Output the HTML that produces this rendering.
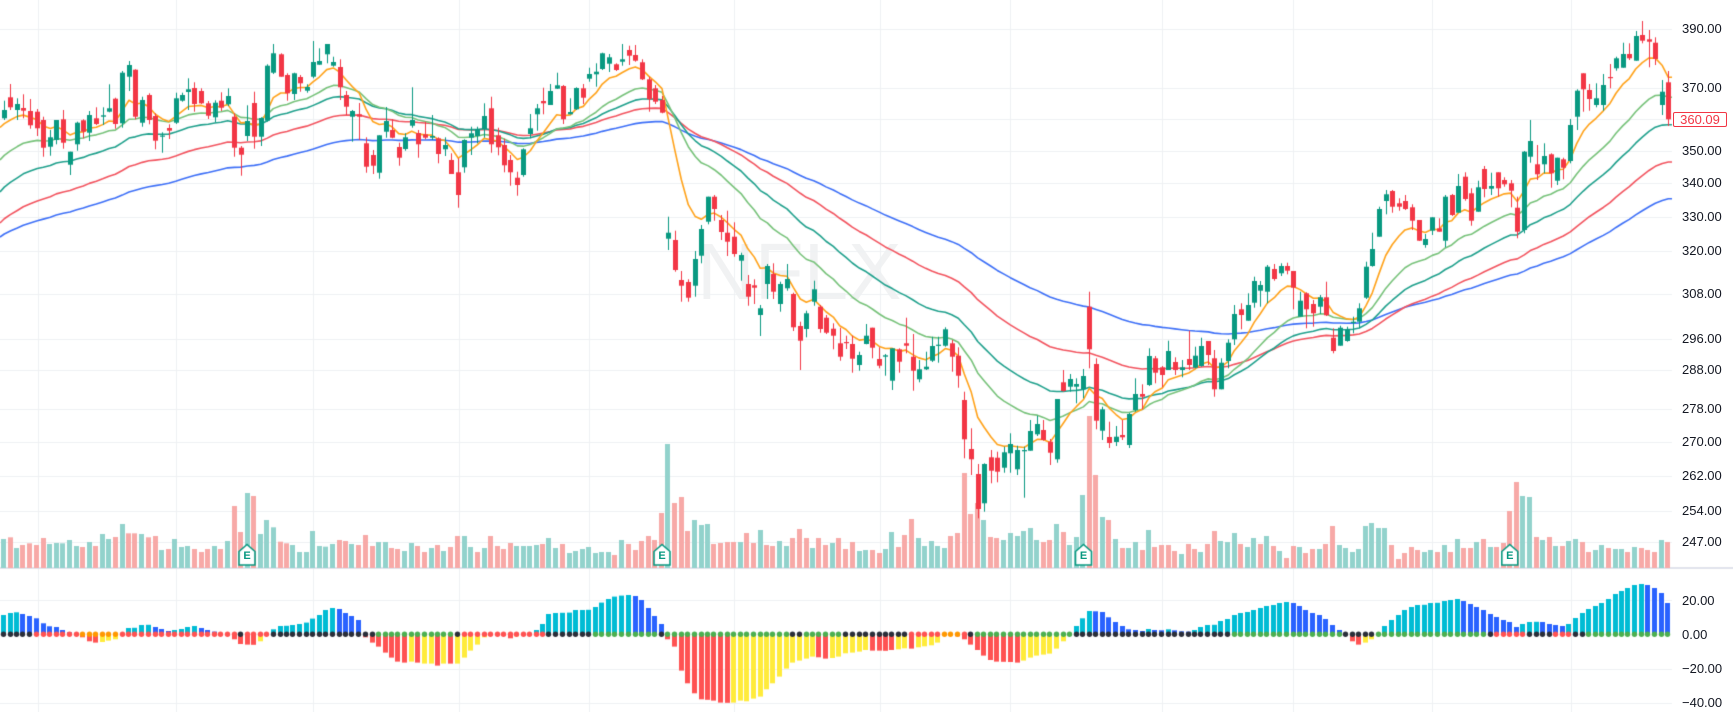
<!DOCTYPE html>
<html><head><meta charset="utf-8">
<style>
html,body{margin:0;padding:0;background:#fff;}
#wrap{position:relative;width:1733px;height:712px;overflow:hidden;background:#fff;font-family:"Liberation Sans",Arial,sans-serif;}
#wm{position:absolute;left:697px;top:232px;font-size:80px;line-height:80px;color:rgba(120,123,134,0.10);white-space:nowrap;}
canvas{position:absolute;left:0;top:0;}
.pl{position:absolute;left:1682px;font-size:13px;color:#131722;line-height:16px;height:16px;white-space:nowrap;}
.tag{position:absolute;left:1673px;top:112px;width:52px;height:13px;border:1px solid #f23645;border-radius:2px;background:#fff;color:#f23645;font-size:13px;line-height:13px;text-align:center;}
.em{position:absolute;width:18px;text-align:center;font-size:11px;font-weight:bold;color:#089981;line-height:12px;}
</style></head><body><div id="wrap">
<div id="wm">NFLX</div>
<canvas id="c" width="1733" height="712"></canvas>
<div class="pl" style="top:21.2px">390.00</div>
<div class="pl" style="top:80.3px">370.00</div>
<div class="pl" style="top:142.7px">350.00</div>
<div class="pl" style="top:175.3px">340.00</div>
<div class="pl" style="top:208.8px">330.00</div>
<div class="pl" style="top:243.4px">320.00</div>
<div class="pl" style="top:286.3px">308.00</div>
<div class="pl" style="top:330.9px">296.00</div>
<div class="pl" style="top:361.7px">288.00</div>
<div class="pl" style="top:401.4px">278.00</div>
<div class="pl" style="top:434.2px">270.00</div>
<div class="pl" style="top:467.9px">262.00</div>
<div class="pl" style="top:502.8px">254.00</div>
<div class="pl" style="top:534.2px">247.00</div>
<div class="tag">360.09</div>
<div class="pl" style="top:592.5px">20.00</div>
<div class="pl" style="top:626.5px">0.00</div>
<div class="pl" style="top:660.9px">&minus;20.00</div>
<div class="pl" style="top:694.9px">&minus;40.00</div>
<div class="em" style="left:238px;top:550px">E</div>
<div class="em" style="left:653px;top:550px">E</div>
<div class="em" style="left:1074.5px;top:550px">E</div>
<div class="em" style="left:1500.8px;top:550px">E</div>
</div>
<script>
(function(){
const cv=document.getElementById('c');const ctx=cv.getContext('2d');
const W=1672;
ctx.fillStyle='#eef0f3';
const hy=[29,88.1,118.9,150.5,183.1,216.6,251.2,294.1,338.7,369.5,409.2,442,475.7,510.6,542,600.3,668.7,702.7];
hy.forEach(y=>ctx.fillRect(0,Math.round(y),W,1));
const vx=[37.5,175.7,313.4,458.5,589,733.8,879.6,1010.3,1162.4,1293.2,1432.4,1570.6];
vx.forEach(x=>ctx.fillRect(Math.round(x),0,1,712));
ctx.fillStyle='#e0e3eb';ctx.fillRect(0,567,1733,2);

const V10=[[6,327,'g'],[18,322,'r'],[30,354,'g'],[42,345,'r'],[55,340,'r'],[67,345,'r'],[80,324,'r'],[92,342,'g'],[104,339,'g'],[116,340,'g'],[128,330,'g'],[141,348,'g'],[153,351,'r'],[166,336,'g'],[178,348,'r'],[190,312,'g'],[202,327,'g'],[214,321,'r'],[227,282,'g'],[239,310,'r'],[251,310,'r'],[263,312,'g'],[276,322,'r'],[289,318,'r'],[301,360,'g'],[313,357,'r'],[325,327,'g'],[337,351,'g'],[349,348,'g'],[362,357,'r'],[375,366,'r'],[387,357,'r'],[399,348,'g'],[411,357,'r'],[423,333,'g'],[436,228,'r'],[448,306,'r'],[461,189,'g'],[473,198,'r'],[485,312,'g'],[497,270,'g'],[509,292,'g'],[522,335,'r'],[534,340,'r'],[546,345,'g'],[559,366,'g'],[571,366,'g'],[583,303,'g'],[595,348,'g'],[607,350,'g'],[620,342,'g'],[632,330,'r'],[644,333,'r'],[656,342,'g'],[669,345,'r'],[682,315,'r'],[694,348,'r'],[706,336,'g'],[718,336,'g'],[730,354,'r'],[742,357,'r'],[755,363,'g'],[767,339,'g'],[779,348,'r'],[792,366,'r'],[804,354,'g'],[816,345,'r'],[828,363,'g'],[841,351,'r'],[853,318,'r'],[866,318,'g'],[878,351,'g'],[890,366,'r'],[903,354,'g'],[915,318,'r'],[927,348,'r'],[940,357,'r'],[952,339,'r'],[964,348,'g'],[976,348,'g'],[988,348,'g'],[1000,345,'g'],[1012,342,'r'],[1024,324,'g'],[1037,354,'g'],[1049,342,'r'],[1062,369,'g'],[1074,363,'g'],[1086,357,'g'],[1098,351,'g'],[1111,369,'g'],[1123,366,'g'],[1135,366,'g'],[1147,375,'r'],[1160,330,'g'],[1172,342,'r'],[1185,360,'r'],[1197,333,'r'],[1209,318,'r'],[1221,330,'r'],[1234,249,'r'],[1246,42,'g'],[1258,219,'r'],[1271,201,'r'],[1283,303,'r'],[1296,270,'g'],[1308,285,'g'],[1320,282,'g'],[1332,342,'r'],[1344,339,'r'],[1357,336,'r'],[1369,336,'r'],[1381,336,'g'],[1393,309,'r'],[1405,339,'r'],[1418,300,'g'],[1430,345,'r'],[1442,348,'r'],[1455,333,'g'],[1467,348,'g'],[1479,324,'r'],[1491,297,'r'],[1504,324,'r'],[1516,354,'g'],[1528,324,'r'],[1540,345,'r'],[1553,339,'g'],[1565,324,'r']];
const V11=[[10,357,'r'],[22,336,'r'],[35,363,'g'],[47,360,'g'],[59,360,'r'],[72,369,'r'],[84,357,'g'],[96,306,'g'],[108,351,'r'],[120,315,'r'],[133,267,'r'],[145,324,'g'],[157,348,'g'],[169,333,'g'],[181,348,'g'],[194,354,'g'],[206,318,'r'],[218,309,'r'],[231,129,'r'],[243,252,'r'],[255,219,'r'],[267,270,'g'],[280,321,'r'],[292,324,'r'],[305,330,'g'],[317,309,'g'],[330,318,'g'],[342,303,'g'],[354,294,'g'],[366,330,'g'],[379,336,'r'],[391,330,'r'],[403,282,'g'],[416,306,'r'],[428,345,'g'],[440,321,'g'],[452,195,'g'],[464,-42,'r'],[476,135,'r'],[489,261,'g'],[501,270,'r'],[514,327,'g'],[526,354,'r'],[538,354,'g'],[550,336,'g'],[563,360,'r'],[575,300,'g'],[587,351,'r'],[600,345,'r'],[612,345,'r'],[624,363,'r'],[636,372,'g'],[649,342,'r'],[661,357,'r'],[673,366,'g'],[686,342,'r'],[698,303,'r'],[710,333,'g'],[722,336,'g'],[735,309,'g'],[747,342,'r'],[759,351,'g'],[771,324,'g'],[784,342,'r'],[796,318,'g'],[808,348,'r'],[820,363,'g'],[833,384,'r'],[845,348,'r'],[857,351,'g'],[869,369,'r'],[881,357,'r'],[894,357,'g'],[906,342,'r'],[918,288,'r'],[931,345,'g'],[943,354,'g'],[955,366,'g'],[967,357,'g'],[980,288,'g'],[992,279,'g'],[1004,294,'g'],[1016,294,'g'],[1029,345,'r'],[1041,387,'r'],[1053,369,'r'],[1066,351,'r'],[1078,360,'r'],[1090,366,'g'],[1102,360,'g'],[1115,366,'r'],[1127,345,'g'],[1139,366,'r'],[1152,327,'g'],[1164,354,'r'],[1176,354,'r'],[1188,336,'g'],[1201,327,'r'],[1213,351,'g'],[1225,351,'r'],[1237,339,'r'],[1249,243,'r'],[1262,156,'r'],[1274,198,'g'],[1286,201,'g'],[1299,321,'r'],[1311,330,'g'],[1323,321,'r'],[1335,348,'g'],[1348,348,'r'],[1360,333,'g'],[1372,327,'g'],[1385,336,'r'],[1397,366,'r'],[1409,360,'g'],[1421,345,'g'],[1434,354,'r'],[1446,357,'g'],[1458,357,'g'],[1470,366,'r'],[1483,351,'g'],[1495,354,'r'],[1507,360,'r'],[1520,366,'r'],[1532,330,'g'],[1544,336,'r']];
const S=1.867;
function vol(arr,off){arr.forEach(v=>{const x=off+v[0]/S;const t=430+v[1]/3;ctx.fillStyle=v[2]=='g'?'#92d2cc':'#f7a9a7';ctx.fillRect(Math.round(x)-2,t,5,568-t);});}
vol(V10,0);vol(V11,840);

[247,662,1083.5,1509.8].forEach(cx=>{
 ctx.beginPath();ctx.moveTo(cx-8,565);ctx.lineTo(cx-8,551.5);ctx.lineTo(cx,544.5);ctx.lineTo(cx+8,551.5);ctx.lineTo(cx+8,565);ctx.closePath();
 ctx.fillStyle='#fff';ctx.fill();ctx.lineWidth=1.6;ctx.strokeStyle='#089981';ctx.stroke();
});

const D=[[4.3,110,118.3,100.7,120,1],[10.3,97.3,107.3,84,110,0],[17.3,104,110,98.3,120,1],[23.3,108,110.7,94.3,118.3,0],[30.3,111,125.3,99,128.7,0],[37.3,111.7,128.3,109,136,0],[43.3,120,147.7,116.7,156.7,0],[50.3,137.3,146.7,130,155.7,1],[56.3,120,140,120,144.3,1],[63.3,119.3,142.7,110,148.7,0],[70,151.7,164.7,151.7,175,1],[76.7,122.7,144.3,121.7,150.7,1],[83.3,120.3,131.7,119.3,138.3,0],[89.3,115,132.7,111,141,1],[96.3,118.3,124,107.3,125,0],[102.7,115.3,116.7,107.3,125,1],[109,108.3,111.7,84.3,112.3,1],[115.3,98.7,124,97.7,128.7,0],[122.3,72.7,123.3,71,127.7,1],[129,65,76.7,61,91,1],[135.3,69.7,116.7,69.3,119.3,0],[142.3,100,122.7,96.7,126.7,1],[148.7,95,120,93.3,124.3,0],[155.3,116,140.7,113.3,149.3,0],[162.3,135.5,136.5,132.3,152.7,1],[168.7,128,130.7,124.3,139,0],[175.7,98.3,122.7,92.7,124,1],[181.7,95,100.7,92.7,101.7,1],[188.3,89.3,92,78.3,110,1],[194.3,88,104,82.3,111.7,0],[201.3,91,103.3,88.3,104,0],[208.3,103.3,115.7,101,119,0],[214.7,102.7,117.3,100.3,122.3,1],[221,100.7,107.7,92.3,111,0],[227.7,96,104.3,88.3,106,1],[234.3,116.7,147.7,113.3,156.7,0],[240.7,147.7,154.7,146,175.7,0],[247.3,121,136,105.3,141,1],[254.3,103,136.7,91.7,148.7,0],[260.7,118,136.7,117.3,146,1],[267.3,65.7,120.7,64.3,121.7,1],[273.3,53.3,72.7,44,74,1],[280.7,54.3,76.7,53.3,76.7,0],[287,75,93.3,73.3,100.7,0],[293.7,73.3,94,72.7,100,1],[300.3,77,83.3,75,91.7,0],[306.7,87,90.7,84.3,92.7,1],[313.3,62,76.7,41,78.3,1],[319.3,61,64.7,48.3,64.7,1],[326.7,44,54.3,44,63.3,1],[333.3,62,65.7,56.7,66.7,1],[339.7,67,87.3,59.3,100,0],[346,95,106.7,91,115,0],[352.3,111,116.7,110,141.7,1],[359.3,114.3,116.7,103,140,0],[366,143.3,166.7,137.3,172.7,0],[372.7,155,165.7,150,174,0],[379.3,135.3,172.7,135.3,178.7,1],[385.7,121,131.7,107,137.7,1],[392,130,137.7,119.3,138.3,0],[398.7,147,157.7,142.7,165.7,0],[405.3,137.3,149,133.3,150.7,1],[411.7,120,125.7,87.3,127.7,1],[418.3,133,144.3,130,157.7,0],[425.3,134.3,137.7,121.7,139.3,0],
[431.7,136,137.7,115,140,1],[438.3,138.3,154,137.3,163.3,0],[444.7,145,149.3,137.3,156,1],[451.3,160,174,153.3,174,0],[458.3,172.3,195,158.3,207.7,0],[464.3,140,167.3,139.3,172.7,1],[471.3,133.3,137.7,126.7,155,1],[477.3,129,136,126.7,143.3,1],[484,116,129,103.3,137.7,1],[491.3,108.3,144.3,96.7,152.7,0],[497.7,135.3,147.3,127.7,155.3,0],[504,145,165.3,138.7,172.3,0],[510.3,160,172.3,155,185.7,0],[517.3,177.7,185,171.7,195.7,0],[523.3,149.3,175,148.3,176.7,1],[530.3,128.3,134,114,138.3,1],[536.7,108.3,114.3,104,130.7,1],[543.3,101,103.3,87.7,114.3,0],[550.3,91,105,84,105,1],[556.7,85.3,88.7,72.7,89,1],[563.3,86,119.3,85,124,0],[570.3,112,114.3,98.3,114.3,1],[576.3,88,109.3,87.3,110,1],[583.3,88.3,97.7,84,104,0],[589.3,74,78.7,67.7,81.7,1],[596,71.7,74.3,63.3,86.7,1],[602.3,53.3,69,52.7,70,1],[609.3,57.3,63.7,54,72,1],[616,64.3,70,63.3,71,0],[622.3,59.3,61.7,44,65.7,1],[629.3,50,55.7,45.7,65,0],[635.3,55,60.7,45,61.7,0],[642.3,62.3,79.3,59.3,80,0],[648.7,79.3,99.3,76.7,111.7,0],[655.3,88.3,101.7,85,104,0],[662,100,112.7,96,113.3,0],
[668.3,232.7,238.7,216.7,250,1],[675,240,270,230.7,271.7,0],[681.3,280,285.7,271,301.7,0],[688.3,282,297.7,279.3,301.7,0],[695.3,259,285.7,251,296.7,1],[701.3,229,255.7,225,263.3,1],[708.3,196.7,221.7,196.7,224.3,1],[714.3,196.7,209,195,220.7,0],[721.3,220,232,215,240,0],[727.3,232.7,241.7,210.7,256,0],[734.3,236.7,254,222.3,256.7,0],[741,255,260.7,252.7,280.7,1],[747.7,284,296.7,275,305.7,0],[754.3,285.3,287.7,279.3,304,0],[760.3,308.3,315,305,336,1],[767.3,266,284,264,299,1],[773.3,274,291.7,263.3,299,0],[780.3,284,304,281.7,311.7,1],[787,279,288.3,264,290.7,1],[793.3,294,327.3,292.7,331,0],[800.3,326,340.7,321.7,370,0],[806.3,313.3,329,310.7,337.3,1],[813.7,289.3,301.7,280.7,305.7,1],[820.3,306.7,329,305,332.7,0],[826,317.7,332.7,315,334,0],[833.3,328.7,335.7,323.3,349.3,0],[839.7,343.3,356.7,327.7,360.7,0],[846,342,343,335.7,349,0],[852.3,344,358.7,335.7,372.7,0],[859.3,355,365,351.7,370.7,1],[866.3,335.7,344,324,344.3,1],[872.3,327.7,347.7,327.7,358.3,0],[879.3,359,365.7,347.3,368.3,0],[885.3,355.3,356.7,354,375.7,1],[892.3,348.3,380.7,348.3,390,1],[899.3,349.3,361.7,348.3,372.7,0],[905.7,343.3,345.7,317.7,353.3,0],[912.7,356.7,370.7,334,390.7,0],[918.7,369.3,379.3,360,382.3,1],[925.7,366.7,369.3,351.7,370,1],[931.7,346,360.7,336.7,362,1],[938.3,344.7,345.7,336.7,362.7,1],[945.3,329.3,345.7,327.3,346.7,1],[951.7,343.3,356.7,340,371.7,0],[958.3,355.7,375.7,347.3,387.7,0],[964.3,400,439.3,391.7,458.3,0],[971.3,449,459.3,428.3,475,0],[977.7,474,509,464,518.3,0],[984.3,464,503.3,463.3,511.7,1],[991,457.3,470.7,450,483.3,0],[997.3,457.7,471.7,451.7,482.3,0],[1004,452.3,467.7,446.7,472.7,1],[1010.3,444,453.3,433.3,472.7,1],[1017.3,450,469.3,445.7,475,1],[1024.3,450,451.3,446.7,497.7,1],[1030,431,450.7,420,450.7,1],[1037.3,424,434.3,415.7,436,1],[1043.3,430,440,420,440.7,0],[1050,441.7,452.7,439,465,0],[1056.7,399,459.3,399,462.7,1],[1063.3,382.3,391,370,391.7,0],[1070,379,386.7,374,391.7,1],[1076.3,384,386.7,378.3,403.3,1],[1083.3,376,389.3,369,398.3,1],[1089.3,306.7,349.3,291.7,368.3,0],[1096,364,420.7,358.3,429.3,0],[1102.3,409.3,430.7,406.7,440,1],[1109.3,437,443,421.7,448,0],[1116,436.7,442,426,446,1],[1122.3,435,437.3,420,440,0],[1129,414,445,413,448,1],[1135,394,410,378.3,411.7,1],[1142.3,394,396.7,384.3,409.3,0],[1149.3,356,385,348.3,386,1],[1155,358.3,372.7,356,383.3,0],[1162.3,367.3,375,366,387.3,0],[1168.3,351,370,340.7,370,1],[1175,362,370,357.3,375,0],[1181.7,367.3,370,360,377.3,1],[1188.7,359,365,330.7,370,0],[1195,355.7,367.7,346.7,368.3,1],[1201.3,346,366,337.7,366.7,1],[1208.3,341,355,341,365,0],[1214.3,358.3,389.3,350,396.7,0],[1221.3,362.7,389.3,358.3,389.3,1],[1228.3,342.7,361,339.3,368.3,1],[1234.3,314,339.3,305,345,1],[1241,309.3,315,303.3,329.3,0],
[1247.7,305,320.7,293.3,320.7,1],[1254.3,281,302.7,276.7,307.7,1],[1260.3,285,290.7,281,306.7,1],[1267.3,266.7,291.7,265,303.3,1],[1274.3,269,279,264,280.7,0],[1280.7,266,273.3,263.3,276,1],[1287.3,266,270.7,262.7,274.3,0],[1293.3,271,287.7,271,309.3,0],[1300.3,300.7,316.7,291.7,316.7,1],[1306.3,293.3,309.3,292.3,328.3,0],[1313.3,304,313.3,300,326.7,0],[1320.3,297.3,306.7,295,314,1],[1326.3,297.3,315.3,281.7,316,0],[1333.3,337.7,351,328.3,353.3,0],[1340,327.7,345.7,325.7,345.7,1],[1346.7,329.3,341,326.7,341.7,1],[1353.3,321.7,323,316.7,333.3,1],[1359.3,308.3,321.7,303.3,328.3,1],[1366,266.7,297.7,261.7,299,1],[1372.3,249,266,232.7,266.7,1],[1379,209,236.7,206.7,236.7,1],[1385.7,194.3,201,190,214.3,1],[1392.3,191,206.7,190,212.7,0],[1399,203.3,206.7,198.3,210.7,0],[1405,201,209,195,210,0],[1412.3,207.3,220.7,204.3,230,0],[1418.7,220,240.7,220,241,0],[1425.3,239,245,234,247.7,1],[1432.3,217.3,230.7,217.3,235,1],[1438.7,228.3,231.7,218.3,231.7,0],[1445.3,196.7,240.7,195,247.3,1],[1451.7,195,215,194,216,0],[1458.3,186,212.7,174,212.7,1],[1464.7,176.7,199,172.3,200.7,0],[1471.3,193.3,220.7,188.3,225.7,0],[1478.3,187.3,211.7,180.7,211.7,1],[1484.3,169,189,166,197.3,0],[1491.3,186,188.7,172.7,195,1],[1497.7,172.3,188.3,172.3,196.7,0],[1504.3,180,184.3,177.3,186.7,0],[1510.7,183.3,190.7,180,207.3,0],[1517.3,207.7,231.7,196.7,238.3,0],[1524.3,151.7,230,151,233.3,1],[1530.3,141,156.7,120,162.7,1],[1537.3,164.3,174.3,145,180,0],[1543.7,156,164.3,143.3,173.3,1],[1550.7,154.3,173.3,153.3,187.7,0],
[1557.3,157.7,180.7,157.7,185,1],[1563.3,159.3,167.7,157.7,179.3,0],[1570.3,125,161,119,163.3,1],[1576.7,90.7,116.7,89.3,130,1],[1583.3,73.3,89.3,73.3,111.7,0],[1589.3,90,99,84,110.7,0],[1596,98.3,105,83.3,107.3,1],[1603.3,85,105,74,110.7,1],[1610,77,78,64,88.3,0],[1616,58.3,68.3,56.7,70.7,1],[1622.7,54,67.7,42.7,67.7,1],[1629.3,54,58.3,43.3,60,0],[1635.7,36,60.7,31,60.7,1],[1642.3,35,40.7,21,43.3,0],[1649,39.3,41.7,30,67.3,0],[1655.3,42.7,59,37.3,65,0],[1662.3,91.7,105,80,115,1],[1668.3,82.3,119.3,71,126,0]];

function y2p(y){return 390*Math.exp(-(y-29)/1123);}
function p2y(p){return 29+1123*Math.log(390/p);}
const P=[89,55,34,21,8];const seeds=[237,223,192,160,127.5];
const cols=['#3d6ff7','#f2545f','#1fa08c','#77c27a','#ffa21a'];
P.forEach((n,k)=>{
 const a=2/(n+1);let e=y2p(seeds[k]);
 ctx.beginPath();ctx.moveTo(0,seeds[k]);
 D.forEach(d=>{const c=d[5]?d[1]:d[2];e=e+a*(y2p(c)-e);ctx.lineTo(d[0],p2y(e));});
 ctx.lineTo(W,p2y(e));
 ctx.lineWidth=1.6;ctx.lineJoin='round';ctx.strokeStyle=cols[k];ctx.stroke();
});

D.forEach(d=>{
 const x=Math.round(d[0]);ctx.fillStyle=d[5]?'#089981':'#f23645';
 ctx.fillRect(x,d[3],1,d[4]-d[3]);
 ctx.fillRect(x-2,d[1],5,Math.max(1.2,d[2]-d[1]));
});

const H10=[[6,19.3,'c'],[18,21.3,'c'],[30,22,'c'],[42,20.3,'b'],[55,18.3,'b'],[67,16,'b'],[80,11,'b'],[92,8,'b'],[104,7.3,'b'],[116,4.3,'b'],[128,2,'b'],[141,-1,'r'],[153,-3,'r'],[166,-7,'r'],[178,-8.3,'r'],[190,-7.7,'y'],[202,-6.3,'y'],[214,-5,'y'],[227,0.5,'c'],[239,6.3,'c'],[251,6.5,'c'],[263,9.3,'c'],[276,9.5,'c'],[289,7.3,'b'],[301,5.3,'b'],[313,3.3,'b'],[325,4.3,'c'],[337,5.3,'c'],[349,7.3,'c'],[362,8.3,'c'],[375,6.3,'b'],[387,4.3,'b'],[399,2.7,'b'],[411,1,'b'],[423,-1,'r'],[436,-5,'r'],[448,-9.7,'r'],[461,-10.3,'r'],[473,-10.5,'r'],[485,-7,'y'],[497,0.5,'c'],[509,5,'c'],[522,8.3,'c'],[534,8.5,'c'],[546,9.3,'c'],[559,10.3,'c'],[571,11.7,'c'],[583,15.7,'c'],[595,19.3,'c'],[607,24.3,'c'],[620,26.3,'c'],[632,25.3,'b'],[644,21.3,'b'],[656,18.3,'b'],[669,14.3,'b'],[682,-3,'r'],[694,-8.3,'r'],[706,-12.3,'r'],[718,-18.3,'r'],[730,-23.3,'r'],[742,-27.3,'r'],[755,-28.3,'r'],[767,-27.3,'y'],[779,-28.3,'r'],[792,-29.3,'y'],[804,-29.3,'y'],[816,-31.3,'r'],[828,-29.3,'y'],[841,-29.3,'r'],[853,-29.3,'y'],[866,-23.3,'y'],[878,-16.3,'y'],[890,-10.3,'y'],[903,-3,'y'],[915,-1,'y'],[927,-0.5,'r'],[940,-1,'r'],[952,-4,'r'],[964,-2,'y'],[976,-1,'y'],[988,0.5,'c'],[1000,4.3,'c'],[1012,10.3,'c'],[1024,20.3,'c'],[1037,21.3,'c'],[1049,21.5,'c'],[1062,21.7,'c'],[1074,24.3,'c'],[1086,24.3,'c'],[1098,24.5,'c'],[1111,27.3,'c'],[1123,31.7,'c'],[1135,35.3,'c'],[1147,37.7,'c'],[1160,38.7,'c'],[1172,39.3,'c'],[1185,38.3,'b'],[1197,34.3,'b'],[1209,26.3,'b'],[1221,18.3,'b'],[1234,10.3,'b'],[1246,-5,'r'],[1258,-12.3,'r'],[1271,-36.3,'r'],[1283,-49,'r'],[1296,-59,'r'],[1308,-65,'r'],[1320,-65.5,'r'],[1332,-66.3,'r'],[1344,-68.3,'r'],[1357,-68.5,'r'],[1369,-68.3,'y'],[1381,-66.3,'y'],[1393,-67,'y'],[1405,-64.3,'y'],[1418,-62.3,'y'],[1430,-55,'y'],[1442,-49,'y'],[1455,-42.3,'y'],[1467,-34.3,'y'],[1479,-28.3,'y'],[1491,-26.3,'y'],[1504,-24.3,'y'],[1516,-22.3,'y'],[1528,-23,'r'],[1540,-24.3,'r'],[1553,-23.7,'y'],[1565,-22.3,'y']];
const H11=[[10,-19,'y'],[22,-18.3,'y'],[35,-17.3,'y'],[47,-15.7,'y'],[59,-16.3,'r'],[72,-16.3,'r'],[84,-16.5,'r'],[96,-15.7,'r'],[108,-15,'y'],[120,-14,'y'],[133,-14.3,'r'],[145,-13,'y'],[157,-12,'y'],[169,-11,'y'],[181,-8.3,'y'],[194,-1,'y'],[206,-1,'y'],[218,-2,'r'],[231,-5,'r'],[243,-10.3,'r'],[255,-15.7,'r'],[267,-21.3,'r'],[280,-25.7,'r'],[292,-27.3,'r'],[305,-27.5,'r'],[317,-27.7,'r'],[330,-28.3,'r'],[342,-26.3,'y'],[354,-23.3,'y'],[366,-21.3,'y'],[379,-20.3,'y'],[391,-19.3,'y'],[403,-14.3,'y'],[416,-7,'y'],[428,0.5,'c'],[440,8.3,'c'],[452,16,'c'],[464,23.3,'c'],[476,23,'b'],[489,22.3,'b'],[501,17,'b'],[514,12.3,'b'],[526,8.3,'b'],[538,5,'b'],[550,4.3,'b'],[563,3.3,'b'],[575,5.3,'c'],[587,4.3,'b'],[600,4,'b'],[612,5,'c'],[624,4,'b'],[636,3,'b'],[649,2.7,'b'],[661,4.3,'c'],[673,7.3,'c'],[686,9.3,'c'],[698,9.5,'c'],[710,13.3,'c'],[722,15.3,'c'],[735,19.3,'c'],[747,21.3,'c'],[759,22.3,'c'],[771,24.3,'c'],[784,26.3,'c'],[796,28.3,'c'],[808,29.3,'c'],[820,31.3,'c'],[833,32.3,'c'],[845,31.3,'b'],[857,28.3,'b'],[869,24.3,'b'],[881,21.3,'b'],[894,19.3,'b'],[906,15.3,'b'],[918,9.3,'b'],[931,4.3,'b'],[943,0.5,'b'],[955,-7,'r'],[967,-10.3,'r'],[980,-8.3,'y'],[992,-5,'y'],[1004,0.5,'c'],[1016,8.3,'c'],[1029,14.3,'c'],[1041,19.3,'c'],[1053,24.3,'c'],[1066,27.3,'c'],[1078,29.3,'c'],[1090,29.5,'c'],[1102,31.3,'c'],[1115,31.5,'c'],[1127,33.3,'c'],[1139,34.3,'c'],[1152,35.3,'c'],[1164,33.3,'b'],[1176,30.3,'b'],[1188,27.3,'b'],[1201,24.3,'b'],[1213,20.3,'b'],[1225,17.3,'b'],[1237,14.3,'b'],[1249,12.3,'b'],[1262,7.3,'b'],[1274,10.3,'c'],[1286,12.3,'c'],[1299,12.5,'c'],[1311,12.3,'b'],[1323,10.3,'b'],[1335,9.3,'b'],[1348,8.3,'b'],[1360,10.3,'c'],[1372,16.3,'c'],[1385,21.3,'c'],[1397,25.3,'c'],[1409,28.3,'c'],[1421,31.3,'c'],[1434,35.3,'c'],[1446,40.3,'c'],[1458,43.3,'c'],[1470,46.3,'c'],[1483,49.3,'c'],[1495,50.3,'c'],[1507,49.3,'b'],[1520,46.3,'b'],[1532,41.3,'b'],[1544,31.3,'b']];
const HC={c:'#00bcd4',b:'#2962ff',r:'#ff5252',y:'#ffeb3b'};
const Z=634.3;const xs=[];
function hist(arr,off){arr.forEach(h=>{const x=off+h[0]/S;xs.push(x);ctx.fillStyle=HC[h[2]];const v=h[1];
 if(v>=0)ctx.fillRect(Math.round(x)-2,Z-v,5,v);else ctx.fillRect(Math.round(x)-2,Z,5,-v);});}
hist(H10,0);hist(H11,840);
const seg=[[33,'k'],[77,'r'],[119,'o'],[238,'r'],[242,'k'],[269,'r'],[376,'k'],[455,'g'],[459,'k'],[547,'r'],[590,'k'],[655,'g'],[661,'k'],[791,'g'],[802,'k'],[841,'g'],[908,'k'],[940,'r'],[961,'o'],[967,'r'],[973,'k'],[1072,'g'],[1232,'k'],[1343,'g'],[1375,'k'],[1487,'g'],[1494,'k'],[1528,'r'],[1554,'k'],[1573,'r'],[1586,'k'],[9999,'g']];
const DC={k:'#2a2e39',r:'#ff5252',o:'#ff9800',g:'#4caf50'};
xs.forEach(x=>{let c='g';for(const s of seg){if(x<s[0]){c=s[1];break;}}
 ctx.beginPath();ctx.arc(Math.round(x)+0.5,Z,2.7,0,Math.PI*2);ctx.fillStyle=DC[c];ctx.fill();});
})();
</script>
</body></html>
